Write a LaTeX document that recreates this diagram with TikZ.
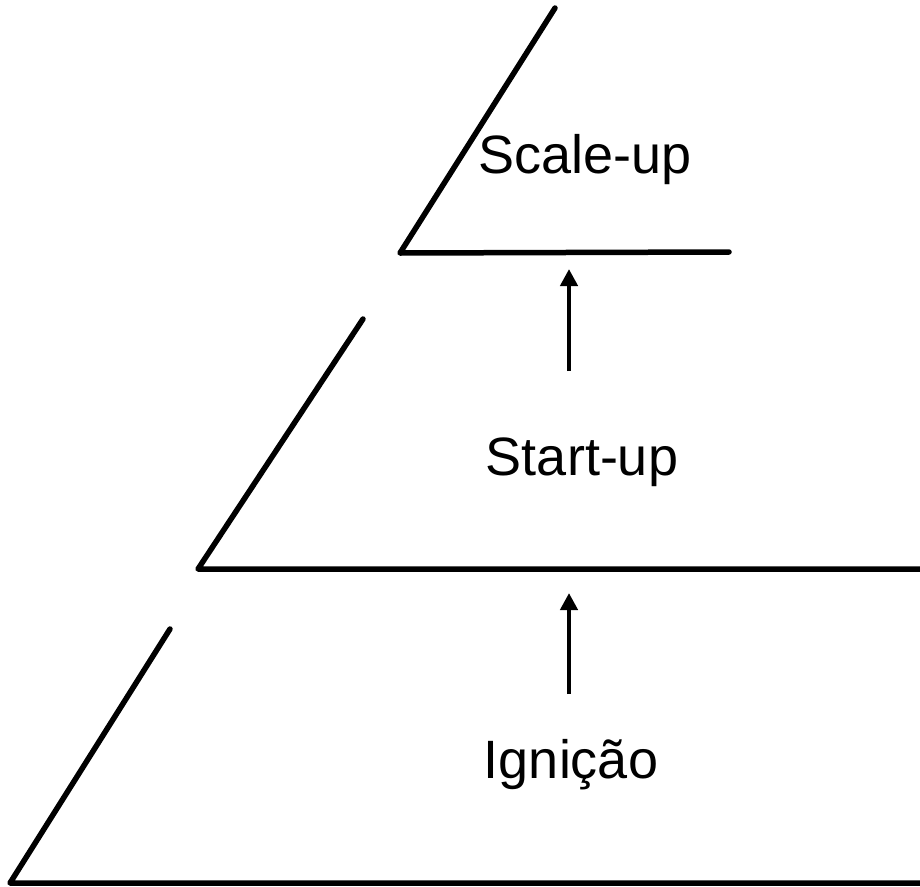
\documentclass[tikz,border=0pt]{standalone}
\usepackage{fontspec}
\setmainfont{Liberation Sans}
\usetikzlibrary{arrows.meta}
\begin{document}
\begin{tikzpicture}[x=1pt,y=-1pt,
  edge/.style={line width=5.5pt,line cap=round,line join=round},
  uparrow/.style={line width=4.5pt,-{Triangle[width=17pt,length=17pt]}},
  lbl/.style={font=\fontsize{54}{60}\selectfont,inner sep=0pt}]
\useasboundingbox (0,0) rectangle (920,886);
% top level
\coordinate (t1) at (555,8);
\coordinate (t2) at (400,253);
\coordinate (t3) at (729,252);
\draw[edge] (t1) -- (t2) -- (t3);
% middle level
\coordinate (m1) at (363,319);
\coordinate (m2) at (198,569);
\coordinate (m3) at (925,569);
\draw[edge] (m1) -- (m2) -- (m3);
% bottom level
\coordinate (b1) at (170,629);
\coordinate (b2) at (10,883);
\coordinate (b3) at (925,883);
\draw[edge] (b1) -- (b2) -- (b3);
% labels
\node[lbl] (scale) at (585,160) {Scale-up};
\node[lbl] (start) at (582,462) {Start-up};
\node[lbl] (ign) at (571,765) {Ignição};
% arrows
\coordinate (a1s) at (569,371);
\coordinate (a1e) at (569,269);
\draw[uparrow] (a1s) -- (a1e);
\coordinate (a2s) at (569,694);
\coordinate (a2e) at (569,593);
\draw[uparrow] (a2s) -- (a2e);
\end{tikzpicture}
\end{document}
